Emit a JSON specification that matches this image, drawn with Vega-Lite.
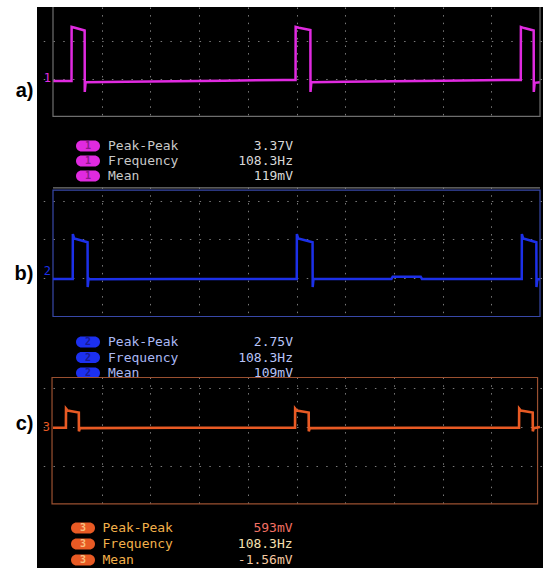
{
  "$schema": "https://vega.github.io/schema/vega-lite/v6.json",
  "background": "white",
  "padding": {"left": 14, "top": 7, "right": 0, "bottom": 0},
  "spacing": 0,
  "bounds": "flush",
  "config": {"view": {"fill": "black", "stroke": null}, "concat": {"spacing": 0}},
  "datasets": {
    "a": [
      {"t": 0, "v": -0.1}, {"t": 0.76, "v": -0.1}, {"t": 0.765, "v": 2.74}, {"t": 0.9, "v": 2.7}, {"t": 1.3, "v": 2.55}, {"t": 1.305, "v": -0.68}, {"t": 1.34, "v": -0.17},
      {"t": 3, "v": -0.14}, {"t": 5, "v": -0.12}, {"t": 7, "v": -0.09}, {"t": 9.5, "v": -0.05}, {"t": 9.96, "v": -0.05},
      {"t": 9.965, "v": 2.74}, {"t": 10.1, "v": 2.7}, {"t": 10.57, "v": 2.58}, {"t": 10.575, "v": -0.68}, {"t": 10.61, "v": -0.17},
      {"t": 12, "v": -0.15}, {"t": 14, "v": -0.12}, {"t": 16, "v": -0.09}, {"t": 18.5, "v": -0.05}, {"t": 19.21, "v": -0.05},
      {"t": 19.215, "v": 2.74}, {"t": 19.35, "v": 2.68}, {"t": 19.74, "v": 2.55}, {"t": 19.745, "v": -0.68}, {"t": 19.78, "v": -0.2}, {"t": 20, "v": -0.17}
    ],
    "b": [
      {"t": 0, "v": -0.04}, {"t": 0.81, "v": -0.04}, {"t": 0.815, "v": 2.28}, {"t": 0.87, "v": 2.05}, {"t": 1.42, "v": 1.86}, {"t": 1.425, "v": -0.45}, {"t": 1.46, "v": 0.0}, {"t": 1.5, "v": -0.05},
      {"t": 5, "v": -0.04}, {"t": 9, "v": -0.03}, {"t": 10.01, "v": -0.03},
      {"t": 10.015, "v": 2.28}, {"t": 10.07, "v": 2.05}, {"t": 10.66, "v": 1.86}, {"t": 10.665, "v": -0.45}, {"t": 10.7, "v": -0.02},
      {"t": 13.9, "v": -0.03}, {"t": 13.95, "v": 0.08}, {"t": 15.1, "v": 0.08}, {"t": 15.15, "v": -0.03}, {"t": 19.25, "v": -0.03},
      {"t": 19.255, "v": 2.28}, {"t": 19.31, "v": 2.05}, {"t": 19.85, "v": 1.86}, {"t": 19.855, "v": -0.45}, {"t": 19.89, "v": -0.05}, {"t": 20, "v": -0.05}
    ],
    "c": [
      {"t": 0, "v": -0.02}, {"t": 0.53, "v": -0.02}, {"t": 0.535, "v": 0.47}, {"t": 0.6, "v": 0.42}, {"t": 1.06, "v": 0.37}, {"t": 1.065, "v": -0.11}, {"t": 1.1, "v": -0.03},
      {"t": 5, "v": -0.02}, {"t": 9.94, "v": -0.02},
      {"t": 9.945, "v": 0.47}, {"t": 10.01, "v": 0.42}, {"t": 10.5, "v": 0.37}, {"t": 10.505, "v": -0.11}, {"t": 10.54, "v": -0.03},
      {"t": 15, "v": -0.02}, {"t": 19.14, "v": -0.02},
      {"t": 19.145, "v": 0.47}, {"t": 19.21, "v": 0.42}, {"t": 19.7, "v": 0.37}, {"t": 19.705, "v": -0.11}, {"t": 19.74, "v": -0.03}, {"t": 20, "v": 0.0}
    ],
    "legA": [
      {"ch": "1", "measure": "Peak-Peak", "value": "3.37V"},
      {"ch": "1", "measure": "Frequency", "value": "108.3Hz"},
      {"ch": "1", "measure": "Mean", "value": "119mV"}
    ],
    "legB": [
      {"ch": "2", "measure": "Peak-Peak", "value": "2.75V"},
      {"ch": "2", "measure": "Frequency", "value": "108.3Hz"},
      {"ch": "2", "measure": "Mean", "value": "109mV"}
    ],
    "legC": [
      {"ch": "3", "measure": "Peak-Peak", "value": "593mV"},
      {"ch": "3", "measure": "Frequency", "value": "108.3Hz"},
      {"ch": "3", "measure": "Mean", "value": "-1.56mV"}
    ]
  },
  "vconcat": [
    {
      "width": 506, "height": 110,
      "layer": [
        {
          "data": {"name": "a"},
          "mark": {"type": "line", "color": "#e02ae0", "strokeWidth": 2.5, "clip": true},
          "encoding": {
            "x": {"field": "t", "type": "quantitative", "scale": {"domain": [-0.657, 20.123], "nice": false, "zero": false},
              "axis": {"title": null, "labels": false, "ticks": false, "domain": false, "values": [2, 4, 6, 8, 10, 12, 14, 16, 18], "grid": true, "gridColor": "#7a7a7a", "gridDash": [1.5, 6.1]}},
            "y": {"field": "v", "type": "quantitative", "scale": {"domain": [-2, 3.789], "nice": false, "zero": false},
              "axis": {"title": "a)", "titleAngle": 0, "titleAlign": "right", "titleBaseline": "middle", "titleX": -4, "titleY": 83, "titleFont": "Liberation Sans", "titleFontSize": 20, "titleFontWeight": "bold", "titleColor": "black", "minExtent": 0, "labels": false, "ticks": false, "domain": false, "values": [0, 2], "grid": true, "gridColor": "#7a7a7a", "gridDash": [1.5, 8.24], "gridDashOffset": 3.5}}
          }
        },
        {
          "data": {"values": [{}]},
          "mark": {"type": "rect", "fill": "transparent", "stroke": "#6e6e6e", "strokeWidth": 1.2, "clip": true},
          "encoding": {"x": {"datum": 0}, "x2": {"datum": 20}, "y": {"datum": -1.97}, "y2": {"datum": 6}}
        },
        {
          "data": {"values": [{}]},
          "mark": {"type": "text", "text": "1", "align": "right", "dx": -2, "font": "DejaVu Sans Mono", "fontSize": 12, "color": "#e02ae0"},
          "encoding": {"x": {"datum": 0}, "y": {"datum": 0.05}}
        }
      ]
    },
    {
      "width": 506, "height": 70,
      "data": {"name": "legA"},
      "encoding": {
        "x": {"datum": 1.437, "type": "quantitative", "scale": {"domain": [-0.657, 20.123], "nice": false, "zero": false}, "axis": null},
        "y": {"field": "measure", "type": "nominal", "sort": null, "scale": {"type": "point", "padding": 0, "domain": ["Peak-Peak", "Frequency", "Mean"], "range": [29, 59]}, "axis": null}
      },
      "layer": [
        {"mark": {"type": "point", "shape": "M-0.54,-0.46 L0.54,-0.46 A0.46,0.46 0 0 1 0.54,0.46 L-0.54,0.46 A0.46,0.46 0 0 1 -0.54,-0.46 Z", "size": 576, "filled": true, "fill": "#e02ae0", "opacity": 1, "strokeWidth": 0}},
        {"mark": {"type": "text", "font": "DejaVu Sans Mono", "fontSize": 10, "fontWeight": "bold", "color": "#8a1a8a"},
         "encoding": {"text": {"field": "ch"}}},
        {"mark": {"type": "text", "align": "left", "font": "DejaVu Sans Mono", "fontSize": 13, "color": "#c8c8c8"},
         "encoding": {"x": {"datum": 2.259, "type": "quantitative"}, "text": {"field": "measure"}}},
        {"mark": {"type": "text", "align": "right", "font": "DejaVu Sans Mono", "fontSize": 13, "color": "#d8d8d8"},
         "encoding": {"x": {"datum": 9.856, "type": "quantitative"}, "text": {"field": "value"}}}
      ]
    },
    {
      "width": 506, "height": 130,
      "layer": [
        {
          "data": {"values": [{}]},
          "mark": {"type": "rule", "color": "#777777", "strokeWidth": 1.2},
          "encoding": {"x": {"datum": 0}, "x2": {"datum": 20}, "y": {"datum": 4.66}}
        },
        {
          "data": {"values": [{}]},
          "mark": {"type": "rect", "fill": "transparent", "stroke": "#3848a8", "strokeWidth": 1.2, "clip": true},
          "encoding": {"x": {"datum": 0}, "x2": {"datum": 20}, "y": {"datum": -1.97}, "y2": {"datum": 4.55}}
        },
        {
          "data": {"name": "b"},
          "mark": {"type": "line", "color": "#1c30e8", "strokeWidth": 2.5, "clip": true},
          "encoding": {
            "x": {"field": "t", "type": "quantitative", "scale": {"domain": [-0.657, 20.123], "nice": false, "zero": false},
              "axis": {"title": null, "labels": false, "ticks": false, "domain": false, "values": [2, 4, 6, 8, 10, 12, 14, 16, 18], "grid": true, "gridColor": "#7a7a7a", "gridDash": [1.5, 6.26]}},
            "y": {"field": "v", "type": "quantitative", "scale": {"domain": [-1.995, 4.706], "nice": false, "zero": false},
              "axis": {"title": "b)", "titleAngle": 0, "titleAlign": "right", "titleBaseline": "middle", "titleX": -4, "titleY": 86, "titleFont": "Liberation Sans", "titleFontSize": 20, "titleFontWeight": "bold", "titleColor": "black", "minExtent": 0, "labels": false, "ticks": false, "domain": false, "values": [0, 2, 4], "grid": true, "gridColor": "#7a7a7a", "gridDash": [1.5, 8.24], "gridDashOffset": 3.5}}
          }
        },
        {
          "data": {"values": [{}]},
          "mark": {"type": "text", "text": "2", "align": "right", "dx": -2, "font": "DejaVu Sans Mono", "fontSize": 12, "color": "#1c30e8"},
          "encoding": {"x": {"datum": 0}, "y": {"datum": 0.4}}
        }
      ]
    },
    {
      "width": 506, "height": 60,
      "data": {"name": "legB"},
      "encoding": {
        "x": {"datum": 1.437, "type": "quantitative", "scale": {"domain": [-0.657, 20.123], "nice": false, "zero": false}, "axis": null},
        "y": {"field": "measure", "type": "nominal", "sort": null, "scale": {"type": "point", "padding": 0, "domain": ["Peak-Peak", "Frequency", "Mean"], "range": [25, 56]}, "axis": null}
      },
      "layer": [
        {"mark": {"type": "point", "shape": "M-0.54,-0.46 L0.54,-0.46 A0.46,0.46 0 0 1 0.54,0.46 L-0.54,0.46 A0.46,0.46 0 0 1 -0.54,-0.46 Z", "size": 576, "filled": true, "fill": "#1c30f0", "opacity": 1, "strokeWidth": 0}},
        {"mark": {"type": "text", "font": "DejaVu Sans Mono", "fontSize": 10, "fontWeight": "bold", "color": "#1a1a90"},
         "encoding": {"text": {"field": "ch"}}},
        {"mark": {"type": "text", "align": "left", "font": "DejaVu Sans Mono", "fontSize": 13, "color": "#aab8f4"},
         "encoding": {"x": {"datum": 2.259, "type": "quantitative"}, "text": {"field": "measure"}}},
        {"mark": {"type": "text", "align": "right", "font": "DejaVu Sans Mono", "fontSize": 13, "color": "#b8c4f8"},
         "encoding": {"x": {"datum": 9.856, "type": "quantitative"}, "text": {"field": "value"}}}
      ]
    },
    {
      "width": 506, "height": 128,
      "layer": [
        {
          "data": {"values": [{}]},
          "mark": {"type": "rect", "fill": "transparent", "stroke": "#9a5030", "strokeWidth": 1.2, "clip": true},
          "encoding": {"x": {"datum": -0.04}, "x2": {"datum": 19.9}, "y": {"datum": -1.97}, "y2": {"datum": 1.27}}
        },
        {
          "data": {"name": "c"},
          "mark": {"type": "line", "color": "#e85a24", "strokeWidth": 2.6, "clip": true},
          "encoding": {
            "x": {"field": "t", "type": "quantitative", "scale": {"domain": [-0.657, 20.123], "nice": false, "zero": false},
              "axis": {"title": null, "labels": false, "ticks": false, "domain": false, "values": [2, 4, 6, 8, 10, 12, 14, 16, 18], "grid": true, "gridColor": "#7a7a7a", "gridDash": [1.5, 6.3]}},
            "y": {"field": "v", "type": "quantitative", "scale": {"domain": [-2, 1.282], "nice": false, "zero": false},
              "axis": {"title": "c)", "titleAngle": 0, "titleAlign": "right", "titleBaseline": "middle", "titleX": -4, "titleY": 46, "titleFont": "Liberation Sans", "titleFontSize": 20, "titleFontWeight": "bold", "titleColor": "black", "minExtent": 0, "labels": false, "ticks": false, "domain": false, "values": [-1, 0, 1], "grid": true, "gridColor": "#7a7a7a", "gridDash": [1.5, 8.24], "gridDashOffset": 3.5}}
          }
        },
        {
          "data": {"values": [{}]},
          "mark": {"type": "text", "text": "3", "align": "right", "dx": -3, "font": "DejaVu Sans Mono", "fontSize": 12, "color": "#e85a24"},
          "encoding": {"x": {"datum": 0}, "y": {"datum": 0}}
        }
      ]
    },
    {
      "width": 506, "height": 63,
      "data": {"name": "legC"},
      "encoding": {
        "x": {"datum": 1.232, "type": "quantitative", "scale": {"domain": [-0.657, 20.123], "nice": false, "zero": false}, "axis": null},
        "y": {"field": "measure", "type": "nominal", "sort": null, "scale": {"type": "point", "padding": 0, "domain": ["Peak-Peak", "Frequency", "Mean"], "range": [23, 55]}, "axis": null}
      },
      "layer": [
        {"mark": {"type": "point", "shape": "M-0.54,-0.46 L0.54,-0.46 A0.46,0.46 0 0 1 0.54,0.46 L-0.54,0.46 A0.46,0.46 0 0 1 -0.54,-0.46 Z", "size": 576, "filled": true, "fill": "#e85a24", "opacity": 1, "strokeWidth": 0}},
        {"mark": {"type": "text", "font": "DejaVu Sans Mono", "fontSize": 10, "fontWeight": "bold", "color": "#f8c080"},
         "encoding": {"text": {"field": "ch"}}},
        {"mark": {"type": "text", "align": "left", "font": "DejaVu Sans Mono", "fontSize": 13, "color": "#f2b04a"},
         "encoding": {"x": {"datum": 2.033, "type": "quantitative"}, "text": {"field": "measure"}}},
        {"mark": {"type": "text", "align": "right", "font": "DejaVu Sans Mono", "fontSize": 13},
         "encoding": {"x": {"datum": 9.84, "type": "quantitative"}, "text": {"field": "value"},
           "color": {"field": "measure", "type": "nominal", "scale": {"domain": ["Peak-Peak", "Frequency", "Mean"], "range": ["#f27064", "#f6e0b0", "#f4c8a0"]}, "legend": null}}}
      ]
    }
  ]
}
